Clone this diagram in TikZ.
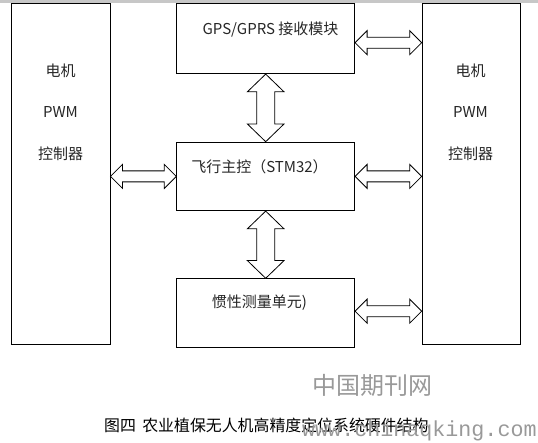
\documentclass[tikz,border=0pt]{standalone}
\usepackage{fontspec}
\setmainfont{Noto Sans CJK SC}
\newfontfamily\wmmono{Liberation Mono}
\usetikzlibrary{calc}

% double block arrows between two nodes
\newcommand{\harrow}[2]{\draw[blockarrow] let \p1=#1, \p2=#2 in
  (\x1,\y1) -- ++(12pt,12pt) -- ++(0,-6.5pt) -- (\x2-12pt,\y1+5.5pt) -- ++(0,6.5pt)
  -- (\x2,\y1) -- ++(-12pt,-12pt) -- ++(0,6.5pt) -- (\x1+12pt,\y1-5.5pt) -- ++(0,-6.5pt) -- cycle;}
\newcommand{\varrow}[2]{\draw[blockarrow] let \p1=#1, \p2=#2 in
  (\x1,\y1) -- ++(18.3pt,-17.7pt) -- ++(-9.3pt,0) -- (\x1+9pt,\y2+17.7pt) -- ++(9.3pt,0)
  -- (\x1,\y2) -- ++(-18.3pt,17.7pt) -- ++(9.3pt,0) -- (\x1-9pt,\y1-17.7pt) -- ++(-9.3pt,0) -- cycle;}

\begin{document}
\begin{tikzpicture}[x=1pt,y=-1pt,
  unit/.style={draw,line width=.8pt,anchor=north west,inner sep=0pt},
  lbl/.style={text=black!85,font=\fontsize{15}{41.5}\selectfont,align=center,inner sep=0pt},
  blockarrow/.style={draw,line width=.8pt,fill=white},
  mark text/.style={text=black!40,inner sep=0pt}]
  \useasboundingbox (0,0) rectangle (538,443);
  \fill[black!22] (0,0) rectangle (538,3);
  \node[unit,minimum width=98.4pt,minimum height=340.7pt] (lpwm) at (11.3,3.3) {};
  \node[unit,minimum width=98pt,minimum height=340.7pt] (rpwm) at (421.7,3.3) {};
  \node[unit,minimum width=178pt,minimum height=70pt] (gps) at (176.3,3.3) {};
  \node[unit,minimum width=178pt,minimum height=68.6pt] (fly) at (176.3,141.7) {};
  \node[unit,minimum width=178pt,minimum height=69pt] (imu) at (176.3,278.3) {};
  \node[lbl] (lpwmtxt) at (60.5,112) {电机\\PWM\\控制器};
  \node[lbl] (rpwmtxt) at (470.5,112) {电机\\PWM\\控制器};
  \node[lbl] (gpstxt) at (270.5,30) {GPS/GPRS 接收模块};
  \node[lbl] (flytxt) at (259.5,167) {飞行主控（STM32）};
  \node[lbl] (imutxt) at (259.5,303) {惯性测量单元)};
  \harrow{(lpwm.east |- fly.west)}{(fly.west)}
  \harrow{([yshift=-4pt]gps.east)}{(rpwm.west)}
  \harrow{(fly.east)}{(rpwm.west)}
  \harrow{([yshift=2pt]imu.east)}{(rpwm.west)}
  \varrow{(gps.south)}{(fly.north)}
  \varrow{(fly.south)}{(imu.north)}
  \node[mark text,font=\fontsize{24}{24}\selectfont] (cnmark) at (372,385) {中国期刊网};
  \node[anchor=west,inner sep=0pt,font=\fontsize{15.9}{15.9}\selectfont] (caption) at (104,425) {图四\hspace{.4em}农业植保无人机高精度定位系统硬件结构};
  \node[mark text,anchor=west,font=\wmmono\fontsize{21.7}{21.7}\selectfont] (urlmark) at (302,431) {www.chinaqking.com};
\end{tikzpicture}
\end{document}
